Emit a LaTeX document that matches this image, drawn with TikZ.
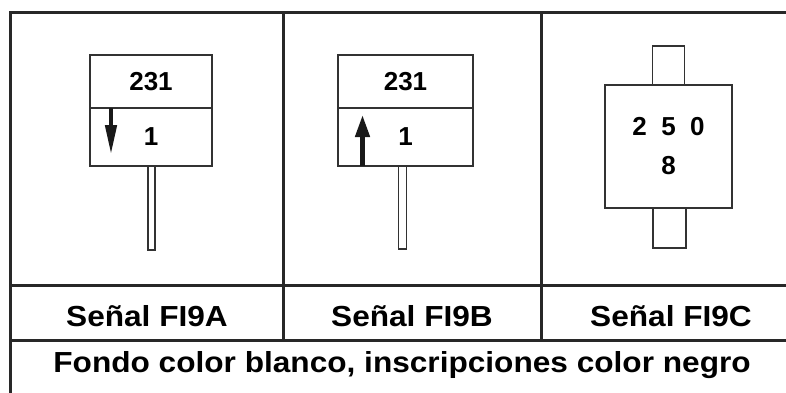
\documentclass[tikz,border=0pt]{standalone}
\usepackage{fontspec}
\setsansfont[FakeStretch=1.09]{Liberation Sans}
\newfontfamily\signfont{Liberation Sans}
\usetikzlibrary{arrows.meta, positioning}
\definecolor{frameink}{RGB}{40,40,40}
\definecolor{signink}{RGB}{50,50,50}

\begin{document}
\begin{tikzpicture}[
        x=1pt, y=-1pt,
        frame/.style={line width=3pt, draw=frameink},
        plate/.style={rectangle, draw=signink, line width=1.6pt, inner sep=0pt, outer sep=0pt, font=\signfont\bfseries\fontsize{26}{39}\selectfont, align=center},
        pole/.style={rectangle, draw=signink, line width=1.3pt, inner sep=0pt, outer sep=0pt, minimum width=7pt, minimum height=84pt},
        caption/.style={font=\sffamily\bfseries\fontsize{29}{29}\selectfont, inner sep=0pt, anchor=base},
        dirarrow/.style={-{Triangle[#1]}, line width=4.5pt, draw=black!90}
    ]
        \useasboundingbox (0,0) rectangle (786,392);

        % table
        \draw[frame] (10,400) -- (10,12) -- (800,12);
        \draw[frame] (10,285) -- (800,285);
        \draw[frame] (10,340) -- (800,340);
        \draw[frame] (283,12) -- (283,340);
        \draw[frame] (541,12) -- (541,340);

        % Senal FI9A
        \node[plate, minimum width=122pt, minimum height=53pt] (plateA) at (151,81.5) {231};
        \node[plate, minimum width=122pt, minimum height=58pt, anchor=north] (distA) at (plateA.south) {1};
        \node[pole, anchor=north] (poleA) at ([xshift=0.5pt]distA.south) {};
        \draw[dirarrow={length=30pt, width=11pt}] ([xshift=21pt]distA.north west) -- ([xshift=21pt, yshift=11pt]distA.south west);

        % Senal FI9B
        \node[plate, minimum width=135pt, minimum height=53pt] (plateB) at (405.5,81.5) {231};
        \node[plate, minimum width=135pt, minimum height=58pt, anchor=north] (distB) at (plateB.south) {1};
        \node[pole, minimum width=8pt, minimum height=83pt, anchor=north] (poleB) at ([xshift=-3pt]distB.south) {};
        \draw[dirarrow={length=22pt, width=14pt}] ([xshift=24.5pt]distB.south west) -- ([xshift=24.5pt, yshift=-7pt]distB.north west);

        % Senal FI9C
        \node[plate, minimum width=127pt, minimum height=123pt] (plateC) at (668.5,146.5) {2~~5~~0\\8};
        \node[pole, minimum width=32pt, minimum height=39pt, anchor=south] (tabtopC) at (plateC.north) {};
        \node[pole, minimum width=33pt, minimum height=40pt, anchor=north] (tabbotC) at ([xshift=1pt]plateC.south) {};

        % captions
        \node[caption] (capA) at (147,326) {Señal FI9A};
        \node[caption] (capB) at (412,326) {Señal FI9B};
        \node[caption] (capC) at (671,326) {Señal FI9C};
        \node[caption] (note) at (402,372) {Fondo color blanco, inscripciones color negro};
    \end{tikzpicture}
\end{document}
